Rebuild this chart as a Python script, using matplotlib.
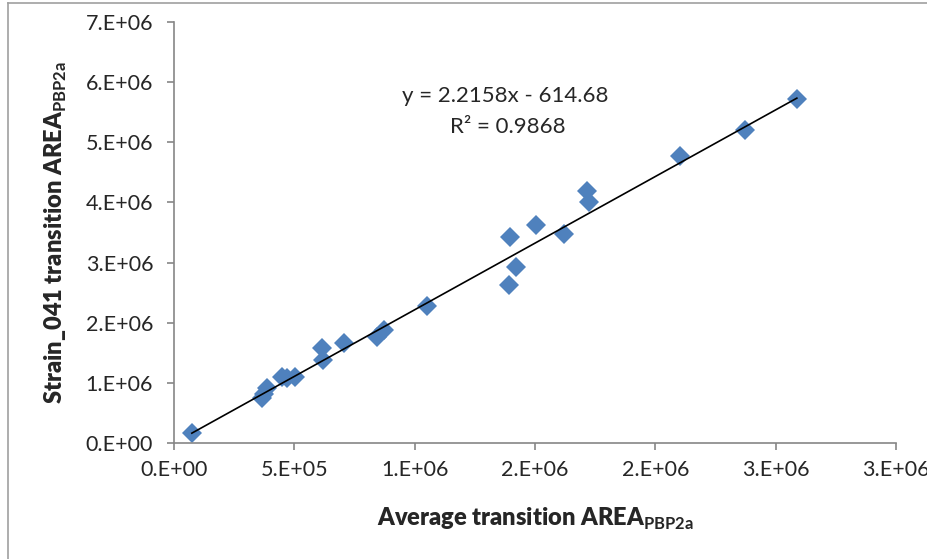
import matplotlib
matplotlib.use("Agg")
import matplotlib.pyplot as plt
from matplotlib.lines import Line2D
import numpy as np

plt.rcParams['font.family'] = ['Lato', 'DejaVu Sans']
plt.rcParams['mathtext.fontset'] = 'custom'
plt.rcParams['mathtext.rm'] = 'Lato'
plt.rcParams['mathtext.bf'] = 'Lato:bold'

# Data (average transition area vs strain_041 transition area)
avg_area = [0.074e6, 0.365e6, 0.376e6, 0.386e6, 0.449e6, 0.470e6, 0.504e6,
            0.615e6, 0.620e6, 0.705e6, 0.845e6, 0.872e6, 1.053e6,
            1.393e6, 1.397e6, 1.421e6, 1.504e6, 1.622e6, 1.717e6, 1.724e6,
            2.101e6, 2.372e6, 2.588e6]
strain_area = [0.160e6, 0.742e6, 0.820e6, 0.908e6, 1.100e6, 1.075e6, 1.090e6,
               1.573e6, 1.380e6, 1.656e6, 1.766e6, 1.877e6, 2.270e6,
               2.625e6, 3.427e6, 2.929e6, 3.633e6, 3.483e6, 4.186e6, 4.010e6,
               4.767e6, 5.210e6, 5.714e6]

slope = 2.2158
intercept = -614.68

x_ticks = [0, 0.5e6, 1.0e6, 1.5e6, 2.0e6, 2.5e6, 3.0e6]
x_tick_labels = ["0.E+00", "5.E+05", "1.E+06", "2.E+06", "2.E+06", "3.E+06", "3.E+06"]
y_ticks = [0, 1e6, 2e6, 3e6, 4e6, 5e6, 6e6, 7e6]
y_tick_labels = ["0.E+00", "1.E+06", "2.E+06", "3.E+06", "4.E+06", "5.E+06", "6.E+06", "7.E+06"]

fig = plt.figure(figsize=(9.28, 5.59), dpi=100)
ax = fig.add_axes([174/928, 1-443/559, (896-174)/928, (443-22)/559])

marker_color = '#4F81BD'
ax.plot(avg_area, strain_area, linestyle='none', marker='D', markersize=9.8,
        color=marker_color, markeredgewidth=0, zorder=2)

xl = np.array([min(avg_area), max(avg_area)])
ax.plot(xl, slope*xl + intercept, color='black', linewidth=1.2, zorder=3)

ax.set_xlim(0, 3.0e6)
ax.set_ylim(0, 7.0e6)
ax.set_xticks(x_ticks)
ax.set_xticklabels(x_tick_labels)
ax.set_yticks(y_ticks)
ax.set_yticklabels(y_tick_labels)

grey = '#868686'
txt = '#262626'
for s in ['top', 'right']:
    ax.spines[s].set_visible(False)
for s in ['left', 'bottom']:
    ax.spines[s].set_color(grey)
    ax.spines[s].set_linewidth(1.2)
ax.tick_params(axis='both', direction='out', length=5, width=1.2, color=grey,
               labelsize=15.5, labelcolor=txt)
ax.tick_params(axis='y', pad=10)
ax.tick_params(axis='x', pad=7)

ax.set_xlabel(r"Average transition AREA$_{\mathbf{PBP2a}}$", fontsize=17,
              fontweight='heavy', color=txt, labelpad=19)
ax.set_ylabel(r"Strain_041 transition AREA$_{\mathbf{PBP2a}}$", fontsize=17,
              fontweight='heavy', color=txt, labelpad=12)

ax.text(505/928, 1-96/559, "y = 2.2158x - 614.68", transform=fig.transFigure,
        ha='center', va='center', fontsize=16, color=txt)
ax.text(508/928, 1-127/559, "R² = 0.9868", transform=fig.transFigure,
        ha='center', va='center', fontsize=16, color=txt)

# outer chart border (left and top only visible)
fig.add_artist(Line2D([7.5/928, 7.5/928], [0, 1-3/559], transform=fig.transFigure,
                      color='#a0a0a0', linewidth=1.2))
fig.add_artist(Line2D([7.5/928, 1], [1-3/559, 1-3/559], transform=fig.transFigure,
                      color='#a0a0a0', linewidth=1.2))

fig.savefig("out.png", dpi=100)
